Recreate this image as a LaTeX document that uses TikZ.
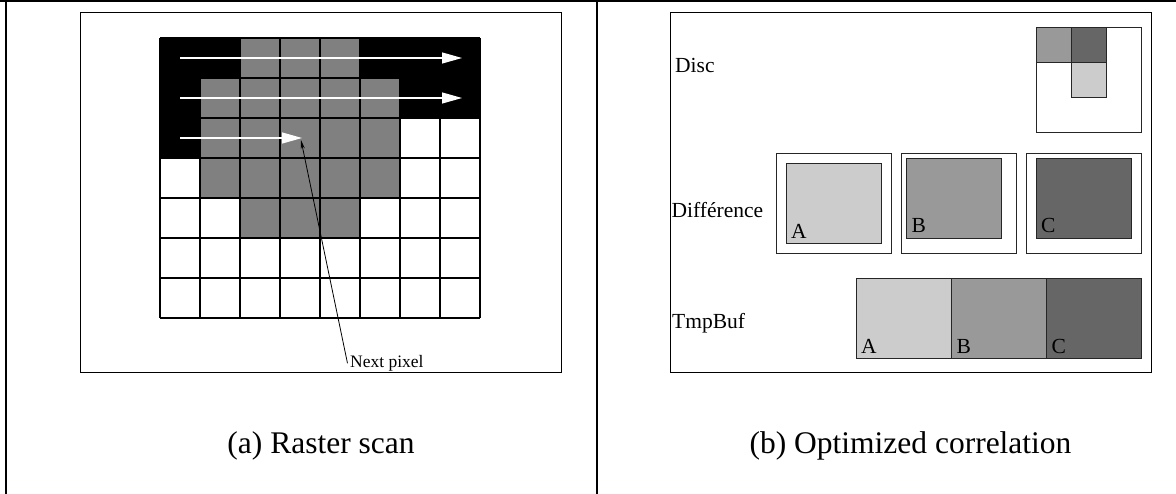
\documentclass[tikz,border=0pt]{standalone}
\usepackage{fontspec}
\setmainfont{Liberation Serif}
\usetikzlibrary{arrows.meta}
\definecolor{pixgray}{HTML}{808080}
\definecolor{lightg}{HTML}{CCCCCC}
\definecolor{midg}{HTML}{999999}
\definecolor{darkg}{HTML}{666666}
\tikzset{
  frame/.style={draw=black, line width=1pt},
  gridline/.style={draw=black, line width=1.4pt},
  scanarrow/.style={draw=white, line width=1.2pt, -{Triangle[length=20pt,width=11pt,fill=white]}},
  ptr/.style={draw=black, line width=0.8pt, -{Stealth[length=9pt,width=4pt]}},
  box/.style={draw=black!85, line width=1pt},
  lab/.style={inner sep=0pt, anchor=base west, font=\fontsize{21.5}{24}\selectfont},
  captext/.style={inner sep=0pt, anchor=base, font=\fontsize{31.5}{36}\selectfont},
}
\begin{document}
\begin{tikzpicture}[x=1pt,y=-1pt]
\useasboundingbox (0,0) rectangle (1176,494);
% outer table borders
\draw[line width=2.5pt] (0,1.2) -- (1176,1.2);
\draw[line width=2pt] (6,0) -- (6,494);
\draw[line width=2pt] (596.5,0) -- (596.5,494);
% ---------------- left panel ----------------
\draw[frame] (80,13) rectangle (561,373);
% black cells
\fill[black] (160,38) rectangle (240,78);
\fill[black] (360,38) rectangle (480,78);
\fill[black] (160,78) rectangle (200,158);
\fill[black] (400,78) rectangle (480,118);
% gray cells
\fill[pixgray] (240,38) rectangle (360,78);
\fill[pixgray] (200,78) rectangle (400,198);
\fill[pixgray] (240,198) rectangle (360,238);
% grid
\foreach \i in {0,...,8} \draw[gridline] ({160+40*\i},38) -- ({160+40*\i},318);
\foreach \j in {0,...,7} \draw[gridline] (160,{38+40*\j}) -- (480,{38+40*\j});
% scan arrows
\coordinate (s1) at (180,58);  \coordinate (e1) at (462,58);
\coordinate (s2) at (180,98);  \coordinate (e2) at (462,98);
\coordinate (s3) at (180,138); \coordinate (e3) at (302,138);
\draw[scanarrow] (s1) -- (e1);
\draw[scanarrow] (s2) -- (e2);
\draw[scanarrow] (s3) -- (e3);
% next pixel
\node[inner sep=2.5pt, anchor=base west, font=\fontsize{17.5}{20}\selectfont] (np) at (347.5,367.5) {Next pixel};
\coordinate (tip) at (301,140);
\draw[ptr] (np.west) -- (tip);
\node[captext] (capa) at (321,453) {(a) Raster scan};
% ---------------- right panel ----------------
\draw[frame] (670,13) rectangle (1151.5,373);
% Disc
\node[lab] (disc) at (675,72.5) {Disc};
\draw[box] (1036,28) rectangle (1141,133);
\filldraw[box, fill=midg] (1036,28) rectangle (1071,63);
\filldraw[box, fill=darkg] (1071,28) rectangle (1106,63);
\filldraw[box, fill=lightg] (1071,63) rectangle (1106,98);
% Difference
\node[lab] (diff) at (671.5,217.3) {Différence};
\draw[box] (776,153.3) rectangle (891,253.3);
\filldraw[box, fill=lightg] (786,163.3) rectangle (881,243.3);
\node[lab] (da) at (791,238.3) {A};
\draw[box] (901,153.3) rectangle (1016,253.3);
\filldraw[box, fill=midg] (906,158.3) rectangle (1001,238.3);
\node[lab] (db) at (911.5,232.7) {B};
\draw[box] (1026,153.3) rectangle (1141,253.3);
\filldraw[box, fill=darkg] (1036,158.3) rectangle (1131,238.3);
\node[lab] (dc) at (1041,232.7) {C};
% TmpBuf
\node[lab] (tmp) at (672,328.3) {TmpBuf};
\filldraw[box, fill=lightg] (856,278.3) rectangle (951,358.3);
\filldraw[box, fill=midg] (951,278.3) rectangle (1046,358.3);
\filldraw[box, fill=darkg] (1046,278.3) rectangle (1141,358.3);
\node[lab] (ta) at (861,353.3) {A};
\node[lab] (tb) at (956.5,353.3) {B};
\node[lab] (tc) at (1051.5,353.3) {C};
\node[captext] (capb) at (910.5,453) {(b) Optimized correlation};
\end{tikzpicture}
\end{document}
